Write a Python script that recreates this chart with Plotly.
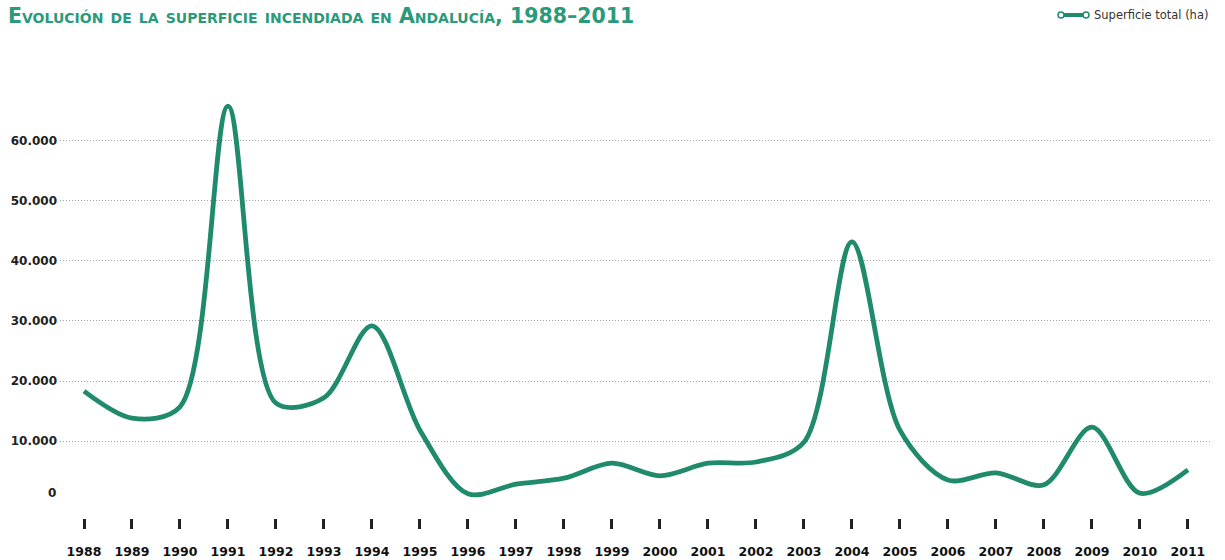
import plotly.graph_objects as go

years = list(range(1988, 2012))
superficie_ha = [18300, 13800, 15700, 65800, 16300, 17200, 29200, 11800, 1200, 2800,
                 3800, 6300, 4200, 6300, 6500, 9800, 43200, 11800, 3500, 4700,
                 2700, 12300, 1300, 5200]
y_ticks = [10000, 20000, 30000, 40000, 50000, 60000]
y_tick_labels = ["10.000", "20.000", "30.000", "40.000", "50.000", "60.000"]
title_text = "Evolución de la superficie incendiada en Andalucía, 1988–2011"
legend_text = "Superficie total (ha)"

LINE = "#1f8a6c"
W, H = 1225, 560
ML, MR, MT, MB = 60, 15, 70, 42
PW, PH = W - ML - MR, H - MT - MB

def px_x(px):
    return (px - ML) / PW

def px_y(py):
    return (H - MB - py) / PH

fig = go.Figure()
fig.add_trace(go.Scatter(
    x=years, y=superficie_ha, mode="lines", name=legend_text,
    line=dict(color=LINE, width=4.8, shape="spline", smoothing=0.9),
    showlegend=False, hoverinfo="x+y",
))

fig.update_layout(
    width=W, height=H,
    margin=dict(l=ML, r=MR, t=MT, b=MB, autoexpand=False),
    paper_bgcolor="white", plot_bgcolor="white",
    font=dict(family="DejaVu Sans", color="#222"),
    title=dict(text="<b>" + title_text + "</b>", x=8 / W, xanchor="left",
               y=1 - 16 / H, yanchor="middle", automargin=False,
               font=dict(family="DejaVu Sans", size=20.5, color="#2a9a7a", variant="small-caps")),
    xaxis=dict(range=[1987.5, 2011.46], tickvals=years, ticktext=[str(y) for y in years],
               showgrid=False, zeroline=False, showline=False, automargin=False,
               ticks="outside", ticklen=10, tickwidth=2.5, tickcolor="#222",
               ticklabelstandoff=12,
               tickfont=dict(family="DejaVu Sans", size=12.5, color="#111", weight="bold")),
    yaxis=dict(range=[-2833, 71830], tickvals=y_ticks, ticktext=y_tick_labels,
               showgrid=True, gridcolor="#a0a0a0", griddash="1px,2px", gridwidth=1,
               zeroline=False, showline=False, ticks="", ticklabelstandoff=2, automargin=False,
               tickfont=dict(family="DejaVu Sans", size=12, color="#222", weight="bold")),
    annotations=[
        dict(text="<b>0</b>", xref="paper", yref="y", x=px_x(58), y=1300,
             xanchor="right", yanchor="middle", showarrow=False,
             font=dict(family="DejaVu Sans", size=12, color="#222")),
        dict(text=legend_text, xref="paper", yref="paper", x=px_x(1092), y=px_y(15),
             xanchor="left", yanchor="middle", showarrow=False,
             font=dict(family="DejaVu Sans", size=11.5, color="#333")),
    ],
    shapes=[
        dict(type="line", xref="paper", yref="paper", x0=px_x(1062), x1=px_x(1085),
             y0=px_y(15), y1=px_y(15), line=dict(color=LINE, width=4)),
        dict(type="circle", xref="paper", yref="paper", x0=px_x(1058), x1=px_x(1064),
             y0=px_y(18), y1=px_y(12), fillcolor="white", line=dict(color=LINE, width=1.5)),
        dict(type="circle", xref="paper", yref="paper", x0=px_x(1083), x1=px_x(1089),
             y0=px_y(18), y1=px_y(12), fillcolor="white", line=dict(color=LINE, width=1.5)),
    ],
)

fig.write_html("out.html", config={"displayModeBar": False},
               post_script="document.body.style.margin='0';")
